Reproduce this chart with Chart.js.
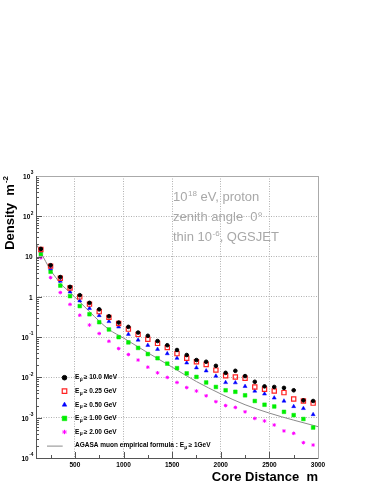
<!DOCTYPE html>
<html>
<head>
<meta charset="utf-8">
<script src="https://cdn.jsdelivr.net/npm/chart.js@4.4.1/dist/chart.umd.min.js"></script>
<style>
  html, body { margin: 0; padding: 0; background: #fff; }
</style>
</head>
<body>
<canvas id="chart" width="382" height="494"></canvas>
<script>
// core distances of the simulated points (m)
const distances = [150, 250, 350, 450, 550, 650, 750, 850, 950, 1050, 1150, 1250, 1350, 1450, 1550,
  1650, 1750, 1850, 1950, 2050, 2150, 2250, 2350, 2450, 2550, 2650, 2750, 2850, 2950];

// muon densities (m^-2) for each energy threshold
const rho10MeV = [15.5, 6.1, 3.1, 1.77, 1.1, 0.71, 0.49, 0.33, 0.23, 0.18, 0.13, 0.108, 0.08, 0.063, 0.048,
  0.036, 0.027, 0.0245, 0.0194, 0.013, 0.0146, 0.0108, 0.0078, 0.006, 0.0058, 0.0055, 0.0048, 0.0027, 0.0026];
const rho025GeV = [15, 5.8, 2.9, 1.65, 1.0, 0.66, 0.43, 0.31, 0.218, 0.158, 0.117, 0.089, 0.07, 0.055, 0.039,
  0.03, 0.0245, 0.021, 0.0152, 0.011, 0.0103, 0.0095, 0.0058, 0.0051, 0.0046, 0.0042, 0.0029, 0.0026, 0.0023];
const rho050GeV = [13.8, 5.0, 2.45, 1.33, 0.8, 0.52, 0.345, 0.245, 0.18, 0.118, 0.085, 0.063, 0.05, 0.039, 0.03,
  0.023, 0.0174, 0.0146, 0.0108, 0.0075, 0.0074, 0.006, 0.0046, 0.0039, 0.0031, 0.0026, 0.0019, 0.0017, 0.0012];
const rho100GeV = [11.5, 4.2, 1.9, 1.04, 0.59, 0.37, 0.235, 0.155, 0.10, 0.074, 0.054, 0.038, 0.03, 0.022, 0.017,
  0.0126, 0.0103, 0.0075, 0.0058, 0.0048, 0.0044, 0.0036, 0.0026, 0.0021, 0.0019, 0.0014, 0.00116, 0.00093, 0.00057];
const rho200GeV = [9.3, 3.0, 1.28, 0.65, 0.35, 0.2, 0.123, 0.079, 0.052, 0.037, 0.027, 0.018, 0.013, 0.01, 0.0075,
  0.0056, 0.0046, 0.0035, 0.0025, 0.002, 0.0018, 0.0014, 0.00096, 0.00083, 0.00066, 0.00047, 0.00041, 0.00024, 0.00021];

// AGASA empirical curve
const agasaR = [100, 150, 200, 250, 300, 350, 450, 550, 650, 750, 850, 1000, 1250, 1500, 1750, 2000, 2250, 2500, 2750, 3000];
const agasaRho = [21, 12.6, 7.5, 4.6, 3.1, 2.15, 1.29, 0.75, 0.43, 0.25, 0.155, 0.095, 0.041, 0.018, 0.0079,
  0.0039, 0.0021, 0.0013, 0.00087, 0.0006];

const xTicks = [500, 1000, 1500, 2000, 2500, 3000];
const yExponents = [-4, -3, -2, -1, 0, 1, 2, 3];

const legendLabels = ['\u2265 10.0 MeV', '\u2265 0.25 GeV', '\u2265 0.50 GeV', '\u2265 1.00 GeV', '\u2265 2.00 GeV'];

const toPoints = (xs, ys) => xs.map((x, i) => ({ x: x, y: ys[i] }));

const series = [
  { data: rho10MeV, style: 'circle', r: 1.8, lr: 2.3, fill: '#000', stroke: '#000', bw: 1 },
  { data: rho025GeV, style: 'rect', r: 3.0, lr: 3.2, fill: 'rgba(0,0,0,0)', stroke: '#f22', bw: 1.2 },
  { data: rho050GeV, style: 'triangle', r: 2.3, lr: 2.7, fill: '#00f', stroke: '#00f', bw: 0.5 },
  { data: rho100GeV, style: 'rect', r: 2.6, lr: 3.3, fill: '#0e0', stroke: '#0e0', bw: 0.5 },
  { data: rho200GeV, style: 'star', r: 1.8, lr: 2.2, fill: '#f0f', stroke: '#f0f', bw: 1 }
];

const datasets = series.map(s => ({
  data: toPoints(distances, s.data),
  pointStyle: s.style,
  pointRadius: s.r,
  backgroundColor: s.fill,
  borderColor: s.stroke,
  borderWidth: s.bw
}));
datasets.push({
  data: toPoints(agasaR, agasaRho),
  showLine: true,
  pointRadius: 0,
  borderColor: '#8a8a8a',
  borderWidth: 1,
  cubicInterpolationMode: 'monotone'
});

const FONT = '"Liberation Sans", Arial, sans-serif';

function drawSup(ctx, x, y, base, exp, baseFont, expFont, rise, align) {
  ctx.font = baseFont;
  const wb = ctx.measureText(base).width;
  ctx.font = expFont;
  const we = ctx.measureText(exp).width;
  let x0 = x;
  if (align === 'right') x0 = x - wb - we - 0.5;
  ctx.textAlign = 'left';
  ctx.font = baseFont;
  ctx.fillText(base, x0, y);
  ctx.font = expFont;
  ctx.fillText(exp, x0 + wb + 0.5, y - rise);
  return x0 + wb + 0.5 + we;
}

const decorations = {
  id: 'decorations',
  afterDraw(chart) {
    const ctx = chart.ctx;
    const area = chart.chartArea;
    const xs = chart.scales.x;
    const ys = chart.scales.y;
    ctx.save();

    // frame
    ctx.lineWidth = 1;
    ctx.strokeStyle = '#aaa';
    ctx.beginPath();
    ctx.moveTo(area.left, area.top + 0.5);
    ctx.lineTo(area.right + 0.5, area.top + 0.5);
    ctx.lineTo(area.right + 0.5, area.bottom);
    ctx.stroke();
    ctx.strokeStyle = '#555';
    ctx.beginPath();
    ctx.moveTo(area.left + 0.5, area.top);
    ctx.lineTo(area.left + 0.5, area.bottom + 0.5);
    ctx.lineTo(area.right + 0.5, area.bottom + 0.5);
    ctx.stroke();

    // ticks inside the frame
    ctx.beginPath();
    for (let v = 250; v < 3000; v += 250) {
      const px = Math.round(xs.getPixelForValue(v)) + 0.5;
      const len = v % 500 === 0 ? 6 : 3;
      ctx.moveTo(px, area.bottom);
      ctx.lineTo(px, area.bottom - len);
    }
    for (let e = -4; e < 3; e++) {
      for (let m = 1; m <= 9; m++) {
        const py = Math.round(ys.getPixelForValue(m * Math.pow(10, e))) + 0.5;
        const len = m === 1 ? 6 : 3;
        ctx.moveTo(area.left, py);
        ctx.lineTo(area.left + len, py);
      }
    }
    ctx.stroke();

    // tick labels
    ctx.fillStyle = '#000';
    ctx.textBaseline = 'middle';
    const tickFont = 'bold 6.5px ' + FONT;
    const expFont = 'bold 4.8px ' + FONT;
    yExponents.forEach(e => {
      const py = ys.getPixelForValue(Math.pow(10, e)) + 1;
      if (e === 0 || e === 1) {
        ctx.font = tickFont;
        ctx.textAlign = 'right';
        ctx.fillText(e === 0 ? '1' : '10', 32.5, py);
      } else {
        drawSup(ctx, 33.5, py, '10', String(e), tickFont, expFont, 4, 'right');
      }
    });
    ctx.font = tickFont;
    ctx.textAlign = 'center';
    xTicks.forEach(v => {
      ctx.fillText(String(v), xs.getPixelForValue(v), 465.5);
    });

    // axis titles
    ctx.textBaseline = 'alphabetic';
    const titleFont = 'bold 13px ' + FONT;
    ctx.font = titleFont;
    ctx.textAlign = 'right';
    ctx.fillText('Core Distance  m', area.right, 481);

    ctx.save();
    ctx.translate(13.5, area.top);
    ctx.rotate(-Math.PI / 2);
    ctx.font = 'bold 8px ' + FONT;
    const wexp = ctx.measureText('-2').width;
    ctx.font = titleFont;
    const wt = ctx.measureText('Density  m').width;
    ctx.textAlign = 'left';
    ctx.fillText('Density  m', -wt - wexp - 1, 0);
    ctx.font = 'bold 8px ' + FONT;
    ctx.fillText('-2', -wexp, -6);
    ctx.restore();

    // run description
    ctx.fillStyle = '#a8a8a8';
    const noteFont = '13px ' + FONT;
    const noteSup = '8px ' + FONT;
    let nx = drawSup(ctx, 173, 201, '10', '18', noteFont, noteSup, 5, 'left');
    ctx.font = noteFont;
    ctx.fillText(' eV, proton', nx, 201);
    ctx.fillText('zenith angle  0\u00b0', 173, 221);
    nx = drawSup(ctx, 173, 241, 'thin 10', '-6', noteFont, noteSup, 5, 'left');
    ctx.font = noteFont;
    ctx.fillText(', QGSJET', nx, 241);

    // legend
    const rowY = [377.7, 391.2, 404.8, 418.4, 432, 445.6];
    const legFont = 'bold 6.5px ' + FONT;
    const subFont = 'bold 4.8px ' + FONT;
    ctx.textBaseline = 'middle';
    series.forEach((s, i) => {
      ctx.fillStyle = s.fill;
      ctx.strokeStyle = s.stroke;
      ctx.lineWidth = s.bw;
      Chart.helpers.drawPoint(ctx, { pointStyle: s.style, radius: s.lr, rotation: 0, borderWidth: s.bw }, 64.5, rowY[i]);
      ctx.fillStyle = '#000';
      ctx.font = legFont;
      ctx.fillText('E', 75, rowY[i]);
      const we = ctx.measureText('E').width;
      ctx.font = subFont;
      ctx.fillText('\u03bc', 75 + we + 0.3, rowY[i] + 2);
      ctx.font = legFont;
      ctx.fillText(legendLabels[i], 75 + we + 4.5, rowY[i]);
    });
    ctx.strokeStyle = '#8a8a8a';
    ctx.lineWidth = 1;
    ctx.beginPath();
    ctx.moveTo(47, rowY[5] + 0.5);
    ctx.lineTo(62.7, rowY[5] + 0.5);
    ctx.stroke();
    ctx.fillStyle = '#000';
    ctx.font = legFont;
    const agText = 'AGASA muon empirical formula : E';
    ctx.fillText(agText, 75, rowY[5]);
    const wa = ctx.measureText(agText).width;
    ctx.font = subFont;
    ctx.fillText('\u03bc', 75 + wa + 0.3, rowY[5] + 2);
    ctx.font = legFont;
    ctx.fillText('\u2265 1GeV', 75 + wa + 4.5, rowY[5]);

    ctx.restore();
  }
};

new Chart(document.getElementById('chart'), {
  type: 'scatter',
  data: { datasets: datasets },
  options: {
    responsive: false,
    animation: false,
    devicePixelRatio: 1,
    layout: { padding: { left: 36, top: 176, right: 64, bottom: 36 } },
    plugins: { legend: { display: false }, tooltip: { enabled: false } },
    scales: {
      x: {
        type: 'linear',
        min: 100,
        max: 3000,
        afterBuildTicks: s => { s.ticks = xTicks.map(v => ({ value: v })); },
        afterFit: s => { s.height = 0; },
        ticks: { display: false },
        grid: { color: '#b0b0b0', lineWidth: 1, drawTicks: false },
        border: { display: false, dash: [1, 1.5] }
      },
      y: {
        type: 'logarithmic',
        min: 1e-4,
        max: 1e3,
        afterBuildTicks: s => { s.ticks = yExponents.map(e => ({ value: Math.pow(10, e) })); },
        afterFit: s => { s.width = 0; },
        ticks: { display: false },
        grid: { color: '#b0b0b0', lineWidth: 1, drawTicks: false },
        border: { display: false, dash: [1, 1.5] }
      }
    }
  },
  plugins: [decorations]
});
</script>
</body>
</html>
